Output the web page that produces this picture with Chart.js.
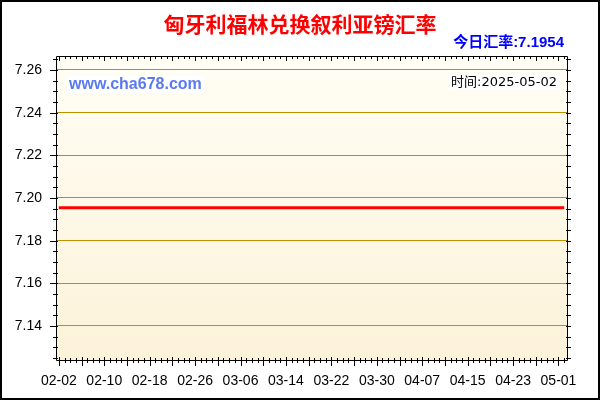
<!DOCTYPE html>
<html>
<head>
<meta charset="utf-8">
<script src="https://cdn.jsdelivr.net/npm/chart.js@4"></script>
<style>
  body { margin: 0; background: #fff; }
  canvas { display: block; }
</style>
</head>
<body>
<canvas id="myChart" width="600" height="400"></canvas>
<script>
'use strict';

var chartTitle = '匈牙利福林兑换叙利亚镑汇率';
var todayRate = '今日汇率:7.1954';
var siteText = 'www.cha678.com';
var timeText = '时间:2025-05-02';

var days = [
    '02-02', '02-03', '02-04', '02-05', '02-06', '02-07', '02-08', '02-09', '02-10', '02-11',
    '02-12', '02-13', '02-14', '02-15', '02-16', '02-17', '02-18', '02-19', '02-20', '02-21',
    '02-22', '02-23', '02-24', '02-25', '02-26', '02-27', '02-28', '03-01', '03-02', '03-03',
    '03-04', '03-05', '03-06', '03-07', '03-08', '03-09', '03-10', '03-11', '03-12', '03-13',
    '03-14', '03-15', '03-16', '03-17', '03-18', '03-19', '03-20', '03-21', '03-22', '03-23',
    '03-24', '03-25', '03-26', '03-27', '03-28', '03-29', '03-30', '03-31', '04-01', '04-02',
    '04-03', '04-04', '04-05', '04-06', '04-07', '04-08', '04-09', '04-10', '04-11', '04-12',
    '04-13', '04-14', '04-15', '04-16', '04-17', '04-18', '04-19', '04-20', '04-21', '04-22',
    '04-23', '04-24', '04-25', '04-26', '04-27', '04-28', '04-29', '04-30', '05-01', '05-02'
];

var rates = [
    7.1954, 7.1954, 7.1954, 7.1954, 7.1954, 7.1954, 7.1954, 7.1954, 7.1954, 7.1954,
    7.1954, 7.1954, 7.1954, 7.1954, 7.1954, 7.1954, 7.1954, 7.1954, 7.1954, 7.1954,
    7.1954, 7.1954, 7.1954, 7.1954, 7.1954, 7.1954, 7.1954, 7.1954, 7.1954, 7.1954,
    7.1954, 7.1954, 7.1954, 7.1954, 7.1954, 7.1954, 7.1954, 7.1954, 7.1954, 7.1954,
    7.1954, 7.1954, 7.1954, 7.1954, 7.1954, 7.1954, 7.1954, 7.1954, 7.1954, 7.1954,
    7.1954, 7.1954, 7.1954, 7.1954, 7.1954, 7.1954, 7.1954, 7.1954, 7.1954, 7.1954,
    7.1954, 7.1954, 7.1954, 7.1954, 7.1954, 7.1954, 7.1954, 7.1954, 7.1954, 7.1954,
    7.1954, 7.1954, 7.1954, 7.1954, 7.1954, 7.1954, 7.1954, 7.1954, 7.1954, 7.1954,
    7.1954, 7.1954, 7.1954, 7.1954, 7.1954, 7.1954, 7.1954, 7.1954, 7.1954, 7.1954
];

var yTicks = [7.14, 7.16, 7.18, 7.20, 7.22, 7.24, 7.26];
var yMin = 7.12406;
var yMax = 7.26656;
var yMinorStep = 0.005;
var labelEvery = 8;
var bigTickEvery = 4;

// frame, ticks, background and texts
var decor = {
    id: 'decor',
    beforeDraw: function (chart) {
        var c = chart.ctx, a = chart.chartArea;
        c.save();
        c.fillStyle = '#fff';
        c.fillRect(0, 0, chart.width, chart.height);
        var g = c.createLinearGradient(0, a.top, 0, a.bottom);
        g.addColorStop(0, '#fffef5');
        g.addColorStop(1, '#fcf2d9');
        c.fillStyle = g;
        c.fillRect(a.left, a.top, a.right - a.left, a.bottom - a.top);
        c.restore();
    },
    afterDraw: function (chart) {
        var c = chart.ctx, a = chart.chartArea;
        var xs = chart.scales.x, ys = chart.scales.y;
        c.save();
        c.strokeStyle = '#000';
        c.lineWidth = 1;
        c.beginPath();
        // frame
        c.rect(a.left + 0.5, a.top + 0.5, a.right - a.left, a.bottom - a.top);
        // x ticks, bottom and top
        for (var i = 0; i < days.length; i++) {
            var px = Math.round(xs.getPixelForValue(i)) + 0.5;
            var big = i % bigTickEvery === 0;
            c.moveTo(px, a.bottom - (big ? 3 : 2));
            c.lineTo(px, a.bottom + (big ? 6 : 3));
            c.moveTo(px, a.top);
            c.lineTo(px, a.top + (big ? 5 : 3));
        }
        // y ticks, left and right
        for (var v = Math.ceil(yMin / yMinorStep) * yMinorStep; v <= yMax; v += yMinorStep) {
            var py = Math.round(ys.getPixelForValue(v)) + 0.5;
            var major = yTicks.some(function (t) { return Math.abs(t - v) < 1e-6; });
            c.moveTo(a.left - (major ? 6 : 3), py);
            c.lineTo(a.left + 2, py);
            c.moveTo(a.right - 1, py);
            c.lineTo(a.right + 4, py);
        }
        c.stroke();

        // outer border
        c.lineWidth = 2;
        c.strokeRect(1, 1, chart.width - 2, chart.height - 2);

        // title
        c.textBaseline = 'middle';
        c.textAlign = 'center';
        c.fillStyle = '#ff0000';
        c.font = 'bold 21px "Noto Sans CJK SC", sans-serif';
        c.fillText(chartTitle, 300, 24);

        // today rate
        c.textAlign = 'right';
        c.fillStyle = '#0000ff';
        c.font = 'bold 15px "Liberation Sans", "Noto Sans CJK SC", sans-serif';
        c.fillText(todayRate, 564, 43);

        // site name
        c.font = 'bold 16px "Liberation Sans", sans-serif';
        var w = c.measureText(siteText).width;
        c.fillStyle = '#fff';
        c.fillRect(67, 76, w + 4, 17);
        c.textAlign = 'left';
        c.fillStyle = '#5a7af0';
        c.fillText(siteText, 69, 84.5);

        // time
        c.font = '13px "DejaVu Sans", "Noto Sans CJK SC", sans-serif';
        w = c.measureText(timeText).width;
        c.fillStyle = '#fff';
        c.fillRect(557 - w - 2, 75, w + 4, 15);
        c.textAlign = 'right';
        c.fillStyle = '#000';
        c.fillText(timeText, 557, 82.5);
        c.restore();
    }
};

var ctx = document.getElementById('myChart').getContext('2d');
var chart = new Chart(ctx, {
    type: 'line',
    data: {
        labels: days,
        datasets: [{
            data: rates,
            borderColor: '#ff0000',
            borderWidth: 3,
            pointRadius: 0,
            tension: 0,
            fill: false
        }]
    },
    options: {
        responsive: false,
        animation: false,
        devicePixelRatio: 1,
        layout: { padding: { top: 56, right: 33, left: 0, bottom: 0 } },
        plugins: {
            legend: { display: false },
            title: { display: false },
            tooltip: { enabled: false }
        },
        scales: {
            x: {
                type: 'category',
                offset: true,
                grid: { display: false, drawTicks: false },
                border: { display: false },
                afterFit: function (s) { s.height = 40; },
                ticks: {
                    autoSkip: false,
                    maxRotation: 0,
                    padding: 13,
                    color: '#000',
                    font: { family: '"Liberation Sans", Arial, sans-serif', size: 14 },
                    callback: function (val, idx) {
                        return idx % labelEvery === 0 ? days[idx] : '';
                    }
                }
            },
            y: {
                min: yMin,
                max: yMax,
                afterBuildTicks: function (s) {
                    s.ticks = yTicks.map(function (v) { return { value: v }; });
                },
                afterFit: function (s) { s.width = 56; },
                grid: { color: '#bf8f00', lineWidth: 1, drawTicks: false },
                border: { display: false },
                ticks: {
                    padding: 14,
                    color: '#000',
                    font: { family: '"Liberation Sans", Arial, sans-serif', size: 14 },
                    callback: function (v) { return v.toFixed(2); }
                }
            }
        }
    },
    plugins: [decor]
});
</script>
</body>
</html>
